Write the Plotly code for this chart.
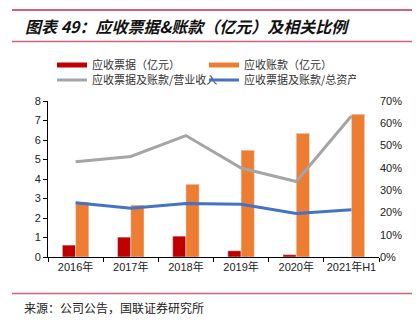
import plotly.graph_objects as go

# Year categories and values
years = ["2016年", "2017年", "2018年", "2019年", "2020年", "2021年H1"]
notes_receivable = [0.61, 1.02, 1.07, 0.32, 0.12, 0.0]        # 亿元
accounts_receivable = [2.81, 2.66, 3.73, 5.48, 6.34, 7.32]    # 亿元
ratio_to_revenue = [0.427, 0.451, 0.545, 0.399, 0.339, 0.633]
ratio_to_assets = [0.243, 0.219, 0.240, 0.237, 0.195, 0.212]

RED = "#C00000"
ORANGE = "#ED7D31"
GRAY = "#A5A5A5"
BLUE = "#4472C4"
RULE = "#D6607A"
FONT = "Liberation Sans, Noto Sans CJK SC, sans-serif"
CJK = "Noto Sans CJK SC, sans-serif"

W, H = 420, 321
L, R, T, B = 48, 41, 101, 64
PW, PH = W - L - R, H - T - B


def px_x(x):
    return (x - L) / PW


def px_y(y):
    return (H - B - y) / PH


fig = go.Figure()

fig.add_trace(go.Bar(x=years, y=notes_receivable, marker_color=RED,
                     name="应收票据（亿元）", showlegend=False))
fig.add_trace(go.Bar(x=years, y=accounts_receivable, marker_color=ORANGE,
                     name="应收账款（亿元）", showlegend=False))
fig.add_trace(go.Scatter(x=years, y=ratio_to_revenue, yaxis="y2", mode="lines",
                         line=dict(color=GRAY, width=3),
                         name="应收票据及账款/营业收入", showlegend=False))
fig.add_trace(go.Scatter(x=years, y=ratio_to_assets, yaxis="y2", mode="lines",
                         line=dict(color=BLUE, width=3),
                         name="应收票据及账款/总资产", showlegend=False))

# Legend entries (flat swatches): bars on the first row, ratios on the second
legend_items = [
    ("应收票据（亿元）", RED, 5, "legend"),
    ("应收账款（亿元）", ORANGE, 5, "legend"),
    ("应收票据及账款/营业收入", GRAY, 3, "legend2"),
    ("应收票据及账款/总资产", BLUE, 3, "legend2"),
]
for label, color, w, lg in legend_items:
    fig.add_trace(go.Scatter(x=[None], y=[None], mode="lines", name=label,
                             line=dict(color=color, width=w), showlegend=True,
                             legend=lg))

legend_style = dict(orientation="h", x=px_x(52), xanchor="left",
                    yanchor="middle", yref="container",
                    entrywidth=107, entrywidthmode="pixels",
                    font=dict(family=CJK, size=11, color="#333"),
                    itemwidth=30, tracegroupgap=0, bgcolor="rgba(0,0,0,0)")

fig.update_layout(
    width=W, height=H, autosize=False,
    margin=dict(l=L, r=R, t=T, b=B, autoexpand=False),
    paper_bgcolor="white", plot_bgcolor="white",
    barmode="group", bargap=0.52, bargroupgap=0,
    font=dict(family=FONT, size=11, color="#222"),
    legend=dict(legend_style, y=1 - 65 / H),
    legend2=dict(legend_style, y=1 - 80 / H),
    xaxis=dict(showline=True, linecolor="black", linewidth=1,
               ticks="outside", ticklen=4, tickcolor="black",
               tickson="boundaries", showgrid=False, tickangle=0,
               tickfont=dict(family=FONT, size=11, color="#222")),
    yaxis=dict(range=[0, 8], dtick=1, showline=True, linecolor="black",
               linewidth=1, ticks="outside", ticklen=4, tickcolor="black",
               showgrid=False, zeroline=False,
               tickfont=dict(size=11, color="#222")),
    yaxis2=dict(range=[0, 0.7], dtick=0.1, tickformat=".0%", overlaying="y",
                side="right", showline=False, showgrid=False, zeroline=False,
                ticks="", tickfont=dict(size=11, color="#222")),
)

# Rule under the title and rule above the source note
for yy in (41.5, 293.5):
    fig.add_shape(type="rect", xref="paper", yref="paper", layer="above",
                  x0=px_x(12), x1=px_x(412),
                  y0=px_y(yy - 0.75), y1=px_y(yy + 0.75),
                  fillcolor=RULE, line=dict(width=0))

# Top rule as a thin filled annotation box
fig.add_annotation(text="", xref="paper", yref="paper",
                   x=px_x(12), y=px_y(9.5), xanchor="left", yanchor="middle",
                   width=400, height=1.5, bgcolor=RULE, borderwidth=0,
                   borderpad=0, showarrow=False)

fig.add_annotation(text="<i><b>图表 49：应收票据&账款（亿元）及相关比例</b></i>",
                   xref="paper", yref="paper", x=px_x(23), y=px_y(26),
                   xanchor="left", yanchor="middle", showarrow=False,
                   font=dict(family=CJK, size=16, color="#111"))
fig.add_annotation(text="来源：公司公告，国联证券研究所",
                   xref="paper", yref="paper", x=px_x(22), y=px_y(307),
                   xanchor="left", yanchor="middle", showarrow=False,
                   font=dict(family=CJK, size=12, color="#222"))

fig.write_html("out.html", config=dict(displayModeBar=False))
